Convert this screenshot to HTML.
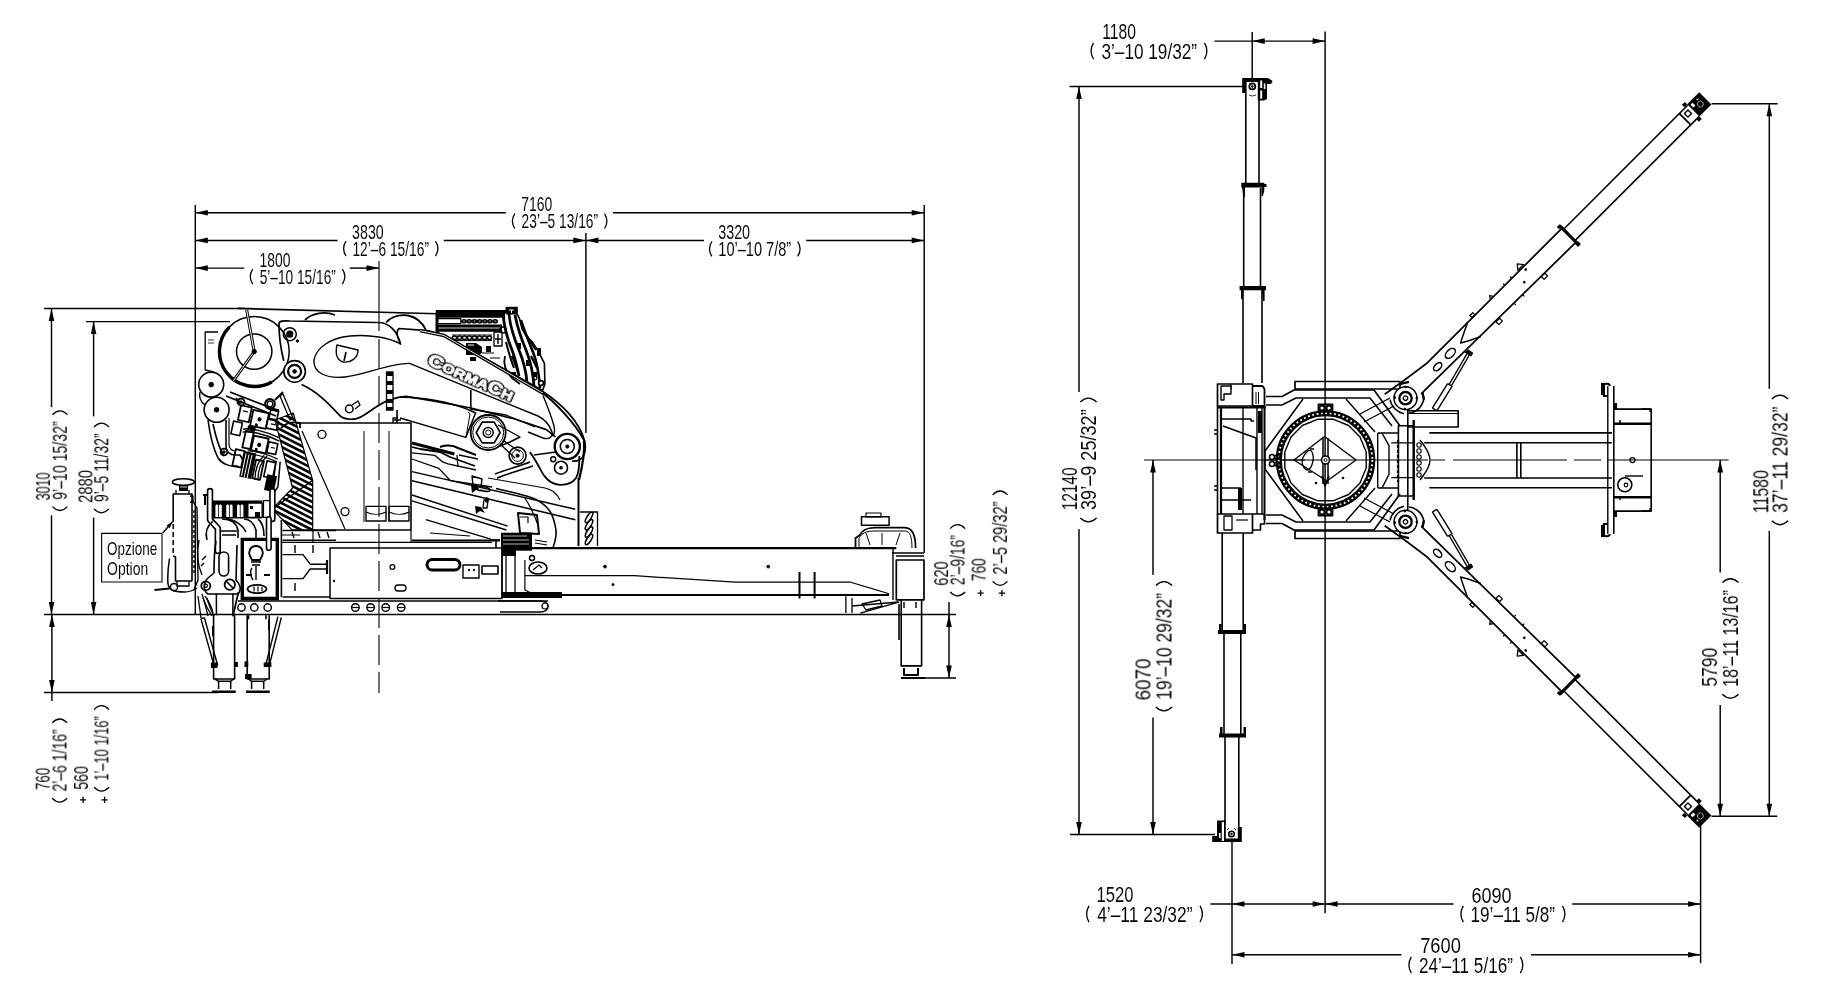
<!DOCTYPE html>
<html><head><meta charset="utf-8"><style>
html,body{margin:0;padding:0;background:#fff;}
svg{display:block;-webkit-font-smoothing:antialiased;}
text{will-change:transform;}
text{font-family:"Liberation Sans",sans-serif;fill:#000;stroke:#fff;stroke-width:0.05px;}
</style></head><body>
<svg width="1830" height="1000" viewBox="0 0 1830 1000">
<g fill="none" stroke="#000" stroke-linecap="butt" stroke-linejoin="round">
<style>.f{fill:#000;stroke:none}</style>
<line x1="195.3" y1="205" x2="195.3" y2="614.5" stroke-width="1.45" />
<line x1="924.2" y1="205" x2="924.2" y2="553" stroke-width="1.45" />
<line x1="585.9" y1="233" x2="585.9" y2="433" stroke-width="1.45" />
<line x1="44" y1="308.4" x2="245" y2="308.4" stroke-width="1.45" />
<line x1="86" y1="321.6" x2="230" y2="321.6" stroke-width="1.45" />
<line x1="44" y1="614.5" x2="956" y2="614.5" stroke-width="1.45" />
<line x1="44" y1="692.5" x2="218" y2="692.5" stroke-width="1.45" />
<line x1="923" y1="678" x2="956" y2="678" stroke-width="1.45" />
<line x1="195.3" y1="212.7" x2="505.8" y2="212.7" stroke-width="1.45" />
<line x1="612.8" y1="212.7" x2="924.2" y2="212.7" stroke-width="1.45" />
<polygon class="f" points="195.3,212.7 207.8,209.9 207.8,215.5"/>
<polygon class="f" points="924.2,212.7 911.7,215.5 911.7,209.9"/>
<text x="521.30" y="211.3" font-size="20" textLength="30.98" lengthAdjust="spacingAndGlyphs">7160</text>
<path d="M514.8,213.6 Q510.0,221.1 514.8,228.5" stroke-width="1.3"/>
<path d="M604.5,213.6 Q609.3,221.1 604.5,228.5" stroke-width="1.3"/>
<text x="521.61" y="227.9" font-size="20" textLength="76.37" lengthAdjust="spacingAndGlyphs">23’–5 13/16”</text>
<line x1="195.3" y1="240.4" x2="337.5" y2="240.4" stroke-width="1.45" />
<line x1="443.8" y1="240.4" x2="585.9" y2="240.4" stroke-width="1.45" />
<polygon class="f" points="195.3,240.4 207.8,237.6 207.8,243.2"/>
<polygon class="f" points="585.9,240.4 573.4,243.2 573.4,237.6"/>
<text x="352.10" y="239.3" font-size="20" textLength="31.59" lengthAdjust="spacingAndGlyphs">3830</text>
<path d="M346.0,241.2 Q341.2,248.7 346.0,256.1" stroke-width="1.3"/>
<path d="M435.5,241.2 Q440.3,248.7 435.5,256.1" stroke-width="1.3"/>
<text x="352.47" y="255.5" font-size="20" textLength="76.52" lengthAdjust="spacingAndGlyphs">12’–6 15/16”</text>
<line x1="585.9" y1="240.4" x2="704" y2="240.4" stroke-width="1.45" />
<line x1="806.2" y1="240.4" x2="924.2" y2="240.4" stroke-width="1.45" />
<polygon class="f" points="585.9,240.4 598.4,237.6 598.4,243.2"/>
<polygon class="f" points="924.2,240.4 911.7,243.2 911.7,237.6"/>
<text x="718.20" y="239.2" font-size="20" textLength="31.90" lengthAdjust="spacingAndGlyphs">3320</text>
<path d="M711.9,241.5 Q707.1,249.0 711.9,256.4" stroke-width="1.3"/>
<path d="M797.7,241.5 Q802.5,249.0 797.7,256.4" stroke-width="1.3"/>
<text x="718.31" y="255.8" font-size="20" textLength="72.89" lengthAdjust="spacingAndGlyphs">10’–10 7/8”</text>
<line x1="195.3" y1="268.1" x2="244.4" y2="268.1" stroke-width="1.45" />
<line x1="349.7" y1="268.1" x2="379" y2="268.1" stroke-width="1.45" />
<polygon class="f" points="195.3,268.1 207.8,265.3 207.8,270.9"/>
<polygon class="f" points="379.0,268.1 366.5,270.9 366.5,265.3"/>
<text x="259.46" y="267" font-size="20" textLength="30.92" lengthAdjust="spacingAndGlyphs">1800</text>
<path d="M252.7,269.2 Q247.9,276.6 252.7,284.1" stroke-width="1.3"/>
<path d="M342.4,269.2 Q347.2,276.6 342.4,284.1" stroke-width="1.3"/>
<text x="259.65" y="283.5" font-size="20" textLength="76.23" lengthAdjust="spacingAndGlyphs">5’–10 15/16”</text>
<line x1="51.5" y1="308.4" x2="51.5" y2="407.2" stroke-width="1.45" />
<line x1="51.5" y1="515.3" x2="51.5" y2="614.5" stroke-width="1.45" />
<polygon class="f" points="51.5,308.4 54.3,320.9 48.7,320.9"/>
<polygon class="f" points="51.5,614.5 48.7,602.0 54.3,602.0"/>
<text transform="translate(49.9,500.44) rotate(-90)" font-size="20" textLength="28.08" lengthAdjust="spacingAndGlyphs">3010</text>
<path d="M52.5,506.6 Q59.9,514.4 67.4,506.6" stroke-width="1.3"/>
<path d="M52.5,414.8 Q59.9,407.0 67.4,414.8" stroke-width="1.3"/>
<text transform="translate(66.8,499.73) rotate(-90)" font-size="20" textLength="78.43" lengthAdjust="spacingAndGlyphs">9’–10 15/32”</text>
<line x1="93.6" y1="321.6" x2="93.6" y2="416.4" stroke-width="1.45" />
<line x1="93.6" y1="517.6" x2="93.6" y2="614.5" stroke-width="1.45" />
<polygon class="f" points="93.6,321.6 96.4,334.1 90.8,334.1"/>
<polygon class="f" points="93.6,614.5 90.8,602.0 96.4,602.0"/>
<text transform="translate(92.4,502.94) rotate(-90)" font-size="20" textLength="32.95" lengthAdjust="spacingAndGlyphs">2880</text>
<path d="M94.0,508.9 Q101.4,516.7 108.9,508.9" stroke-width="1.3"/>
<path d="M94.0,427.0 Q101.4,419.2 108.9,427.0" stroke-width="1.3"/>
<text transform="translate(108.3,502.03) rotate(-90)" font-size="20" textLength="68.51" lengthAdjust="spacingAndGlyphs">9’–5 11/32”</text>
<line x1="51.9" y1="614.5" x2="51.9" y2="701" stroke-width="1.45" />
<polygon class="f" points="51.9,614.5 54.7,627.0 49.1,627.0"/>
<polygon class="f" points="51.9,692.5 49.1,680.0 54.7,680.0"/>
<text transform="translate(49.7,789.86) rotate(-90)" font-size="20" textLength="22.07" lengthAdjust="spacingAndGlyphs">760</text>
<path d="M52.2,798.3 Q59.6,806.1 67.1,798.3" stroke-width="1.3"/>
<path d="M52.2,722.9 Q59.6,715.1 67.1,722.9" stroke-width="1.3"/>
<text transform="translate(66.5,791.50) rotate(-90)" font-size="20" textLength="62.06" lengthAdjust="spacingAndGlyphs">2’–6 1/16”</text>
<path d="M80.0,799.9h6.2M83.1,796.8v6.2" stroke-width="1.3"/>
<text transform="translate(88,789.67) rotate(-90)" font-size="20" textLength="23.61" lengthAdjust="spacingAndGlyphs">560</text>
<path d="M101.5,799.9h6.2M104.6,796.8v6.2" stroke-width="1.3"/>
<path d="M94.1,787.2 Q101.6,795.0 109.0,787.2" stroke-width="1.3"/>
<path d="M94.1,709.6 Q101.6,701.8 109.0,709.6" stroke-width="1.3"/>
<text transform="translate(108.4,780.67) rotate(-90)" font-size="20" textLength="64.51" lengthAdjust="spacingAndGlyphs">1’–10 1/16”</text>
<line x1="949" y1="602" x2="949" y2="678" stroke-width="1.45" />
<polygon class="f" points="949.0,614.5 951.8,627.0 946.2,627.0"/>
<polygon class="f" points="949.0,678.0 946.2,665.5 951.8,665.5"/>
<text transform="translate(948.1,585.73) rotate(-90)" font-size="20" textLength="24.39" lengthAdjust="spacingAndGlyphs">620</text>
<path d="M950.2,592.0 Q957.7,599.8 965.1,592.0" stroke-width="1.3"/>
<path d="M950.2,528.6 Q957.7,520.8 965.1,528.6" stroke-width="1.3"/>
<text transform="translate(964.5,585.19) rotate(-90)" font-size="20" textLength="50.06" lengthAdjust="spacingAndGlyphs">2’–9/16”</text>
<path d="M977.5,593.1h6.2M980.6,590.0v6.2" stroke-width="1.3"/>
<text transform="translate(985.6,581.29) rotate(-90)" font-size="20" textLength="23.02" lengthAdjust="spacingAndGlyphs">760</text>
<path d="M998.8,593.1h6.2M1001.9,590.0v6.2" stroke-width="1.3"/>
<path d="M992.6,581.4 Q1000.0,589.2 1007.5,581.4" stroke-width="1.3"/>
<path d="M992.6,494.9 Q1000.0,487.1 1007.5,494.9" stroke-width="1.3"/>
<text transform="translate(1006.9,574.63) rotate(-90)" font-size="20" textLength="73.23" lengthAdjust="spacingAndGlyphs">2’–5 29/32”</text>
<rect x="101.6" y="533.4" width="60.4" height="48.6" stroke-width="1.1"/>
<text x="107.09" y="554.6" font-size="19" textLength="50.14" lengthAdjust="spacingAndGlyphs">Opzione</text>
<text x="107.07" y="575.4" font-size="19" textLength="41.08" lengthAdjust="spacingAndGlyphs">Option</text>
<line x1="1252.2" y1="32" x2="1252.2" y2="80" stroke-width="1.45" />
<line x1="1325.1" y1="31.5" x2="1325.1" y2="913.2" stroke-width="1.45" />
<line x1="1069.5" y1="86.4" x2="1245" y2="86.4" stroke-width="1.45" />
<line x1="1070" y1="834.4" x2="1215" y2="834.4" stroke-width="1.45" />
<line x1="1711.6" y1="103.7" x2="1777.6" y2="103.7" stroke-width="1.45" />
<line x1="1711.4" y1="816.2" x2="1777.2" y2="816.2" stroke-width="1.45" />
<line x1="1232" y1="840" x2="1232" y2="964" stroke-width="1.45" />
<line x1="1700.6" y1="820" x2="1700.6" y2="963.3" stroke-width="1.45" />
<line x1="1214.4" y1="41.1" x2="1325.1" y2="41.1" stroke-width="1.45" />
<polygon class="f" points="1252.2,41.1 1264.7,38.3 1264.7,43.9"/>
<polygon class="f" points="1325.1,41.1 1312.6,43.9 1312.6,38.3"/>
<text x="1102.22" y="39" font-size="22" textLength="33.84" lengthAdjust="spacingAndGlyphs">1180</text>
<path d="M1093.5,42.8 Q1088.7,51.0 1093.5,59.1" stroke-width="1.3"/>
<path d="M1204.5,42.8 Q1209.3,51.0 1204.5,59.1" stroke-width="1.3"/>
<text x="1101.45" y="58.5" font-size="22" textLength="95.61" lengthAdjust="spacingAndGlyphs">3’–10 19/32”</text>
<line x1="1079" y1="86.4" x2="1079" y2="392" stroke-width="1.45" />
<line x1="1079" y1="529" x2="1079" y2="834.4" stroke-width="1.45" />
<polygon class="f" points="1079.0,86.4 1081.8,98.9 1076.2,98.9"/>
<polygon class="f" points="1079.0,834.4 1076.2,821.9 1081.8,821.9"/>
<text transform="translate(1077,510.15) rotate(-90)" font-size="22" textLength="42.70" lengthAdjust="spacingAndGlyphs">12140</text>
<path d="M1080.3,518.0 Q1088.4,525.8 1096.6,518.0" stroke-width="1.3"/>
<path d="M1080.3,402.0 Q1088.4,394.2 1096.6,402.0" stroke-width="1.3"/>
<text transform="translate(1096,510.08) rotate(-90)" font-size="22" textLength="100.67" lengthAdjust="spacingAndGlyphs">39’–9 25/32”</text>
<line x1="1153" y1="460" x2="1153" y2="575" stroke-width="1.45" />
<line x1="1153" y1="717.5" x2="1153" y2="834.4" stroke-width="1.45" />
<polygon class="f" points="1153.0,460.0 1155.8,472.5 1150.2,472.5"/>
<polygon class="f" points="1153.0,834.4 1150.2,821.9 1155.8,821.9"/>
<text transform="translate(1150.5,700.45) rotate(-90)" font-size="22" textLength="42.10" lengthAdjust="spacingAndGlyphs">6070</text>
<path d="M1155.8,707.0 Q1163.9,714.8 1172.1,707.0" stroke-width="1.3"/>
<path d="M1155.8,585.5 Q1163.9,577.7 1172.1,585.5" stroke-width="1.3"/>
<text transform="translate(1171.5,699.76) rotate(-90)" font-size="22" textLength="106.76" lengthAdjust="spacingAndGlyphs">19’–10 29/32”</text>
<line x1="1769.3" y1="103.7" x2="1769.3" y2="388.8" stroke-width="1.45" />
<line x1="1769.3" y1="531" x2="1769.3" y2="816.2" stroke-width="1.45" />
<polygon class="f" points="1769.3,103.7 1772.1,116.2 1766.5,116.2"/>
<polygon class="f" points="1769.3,816.2 1766.5,803.7 1772.1,803.7"/>
<text transform="translate(1768.3,513.19) rotate(-90)" font-size="22" textLength="43.08" lengthAdjust="spacingAndGlyphs">11580</text>
<path d="M1771.8,520.8 Q1779.9,528.6 1788.1,520.8" stroke-width="1.3"/>
<path d="M1771.8,399.0 Q1779.9,391.2 1788.1,399.0" stroke-width="1.3"/>
<text transform="translate(1787.5,512.87) rotate(-90)" font-size="22" textLength="106.38" lengthAdjust="spacingAndGlyphs">37’–11 29/32”</text>
<line x1="1720.2" y1="460" x2="1720.2" y2="572.6" stroke-width="1.45" />
<line x1="1720.2" y1="705" x2="1720.2" y2="816.2" stroke-width="1.45" />
<polygon class="f" points="1720.2,460.0 1723.0,472.5 1717.4,472.5"/>
<polygon class="f" points="1720.2,816.2 1717.4,803.7 1723.0,803.7"/>
<text transform="translate(1717,686.70) rotate(-90)" font-size="22" textLength="39.11" lengthAdjust="spacingAndGlyphs">5790</text>
<path d="M1722.3,694.2 Q1730.4,702.0 1738.6,694.2" stroke-width="1.3"/>
<path d="M1722.3,582.6 Q1730.4,574.8 1738.6,582.6" stroke-width="1.3"/>
<text transform="translate(1738,686.85) rotate(-90)" font-size="22" textLength="96.72" lengthAdjust="spacingAndGlyphs">18’–11 13/16”</text>
<line x1="1210.3" y1="904" x2="1453.6" y2="904" stroke-width="1.45" />
<line x1="1572.2" y1="904" x2="1700.6" y2="904" stroke-width="1.45" />
<polygon class="f" points="1232.0,904.0 1244.5,901.2 1244.5,906.8"/>
<polygon class="f" points="1325.1,904.0 1312.6,906.8 1312.6,901.2"/>
<polygon class="f" points="1325.1,904.0 1337.6,901.2 1337.6,906.8"/>
<polygon class="f" points="1700.6,904.0 1688.1,906.8 1688.1,901.2"/>
<text x="1096.56" y="901.9" font-size="22" textLength="36.92" lengthAdjust="spacingAndGlyphs">1520</text>
<path d="M1089.0,905.8 Q1084.2,914.0 1089.0,922.1" stroke-width="1.3"/>
<path d="M1200.0,905.8 Q1204.8,914.0 1200.0,922.1" stroke-width="1.3"/>
<text x="1097.20" y="921.5" font-size="22" textLength="95.29" lengthAdjust="spacingAndGlyphs">4’–11 23/32”</text>
<text x="1471.50" y="902.5" font-size="22" textLength="40.13" lengthAdjust="spacingAndGlyphs">6090</text>
<path d="M1463.3,905.8 Q1458.5,914.0 1463.3,922.1" stroke-width="1.3"/>
<path d="M1562.5,905.8 Q1567.3,914.0 1562.5,922.1" stroke-width="1.3"/>
<text x="1470.56" y="921.5" font-size="22" textLength="84.48" lengthAdjust="spacingAndGlyphs">19’–11 5/8”</text>
<line x1="1232" y1="954.7" x2="1401.4" y2="954.7" stroke-width="1.45" />
<line x1="1531.1" y1="954.7" x2="1700.6" y2="954.7" stroke-width="1.45" />
<polygon class="f" points="1232.0,954.7 1244.5,951.9 1244.5,957.5"/>
<polygon class="f" points="1700.6,954.7 1688.1,957.5 1688.1,951.9"/>
<text x="1420.18" y="953.1" font-size="22" textLength="40.75" lengthAdjust="spacingAndGlyphs">7600</text>
<path d="M1411.3,956.8 Q1406.5,965.0 1411.3,973.1" stroke-width="1.3"/>
<path d="M1520.4,956.8 Q1525.2,965.0 1520.4,973.1" stroke-width="1.3"/>
<text x="1418.99" y="972.5" font-size="22" textLength="93.89" lengthAdjust="spacingAndGlyphs">24’–11 5/16”</text>
<path d="M238,308.4 L437,313.8" stroke-width="1.6" />
<circle cx="254.2" cy="351.6" r="35" stroke-width="1.5"/>
<path d="M271.7,381.9 A35,35 0 0 1 229.5,326.9" stroke-width="3.4" />
<circle cx="254.2" cy="351.6" r="17.7" stroke-width="1.5"/>
<path d="M246.6,309.6 L254.2,351.6 L232.8,381.6" stroke-width="3.0" />
<path d="M246.6,309.6 L254.2,351.6 L232.8,381.6" stroke-width="1.0" stroke="#fff"/>
<circle cx="254.2" cy="351.6" r="2.2" stroke-width="1" fill="#000"/>
<path d="M218,332 L205.2,332 L205.2,370 L214,372" stroke-width="1.3" />
<path d="M208,340 h6 M208,343 h6" stroke-width="0.8" />
<circle cx="211.2" cy="384.6" r="12.5" stroke-width="1.6" fill="#fff"/>
<circle cx="211.2" cy="384.6" r="2.3" stroke-width="1" fill="#000"/>
<circle cx="216.6" cy="409.8" r="12.5" stroke-width="1.6" fill="#fff"/>
<circle cx="216.6" cy="409.8" r="2.3" stroke-width="1" fill="#000"/>
<path d="M200,392 A12.5,12.5 0 0 0 205,405" stroke-width="1.4" />
<path d="M279,324 C279,321 283,320.5 290,321 L377,322.5 C389,322 397,331 400.6,344 C397,337 396,331 399,328.5 L427.6,330.6 L444,335 L542.4,391.2 C562,404 580,422 584.8,441.6 C587,455 582,462 572,461 M555.4,436.8 L546.4,429.6 L514,418.8 L470.8,408 L433,400.8 L406,396.3 C395,397 385,401 377.2,406.2 C368,412 362,418 355.6,418.8 C348,420 342,418 339.4,415.2 C330,405 318,392 301.6,384.6 M283.8,361 C281,350 279,338 279,324" stroke-width="1.7" />
<path d="M400.6,344 C390,338 370,334 350,336 C330,338 316,348 314,360 C313,372 325,379 345,377 C365,375 390,363 409.6,363.4 L513,405.9 L538,416 C546,420 550,426 552,432 C553,437 549,440 543,438 L528,432" stroke-width="1.4" />
<path d="M337,345 L358,350 C358,358 351,363 343,362 C337,360 335,354 337,345 Z" stroke-width="1.4" />
<path d="M346,352 L344,361" stroke-width="1.6" />
<circle cx="289.8" cy="334.2" r="6.5" stroke-width="1.5"/>
<circle cx="289.8" cy="334.2" r="2.6" stroke-width="2" fill="#000"/>
<circle cx="297.5" cy="341" r="1.2" stroke-width="1" fill="#000"/>
<circle cx="294.6" cy="371.4" r="10.8" stroke-width="1.6" fill="#fff"/>
<circle cx="294.6" cy="371.4" r="6.5" stroke-width="2.2"/>
<circle cx="294.6" cy="371.4" r="1.8" stroke-width="1" fill="#000"/>
<circle cx="349.3" cy="408.9" r="3.8" stroke-width="1.5"/>
<path d="M352,405 l6,-4 l2,4 l-5,4" stroke-width="1.3" />
<text transform="translate(426.5,364.0) rotate(24)" font-size="12.5" font-weight="bold" textLength="92" lengthAdjust="spacingAndGlyphs" style="fill:#000;stroke:#000;stroke-width:3.2px"><tspan font-size="17">C</tspan>ORMA<tspan font-size="16">C</tspan>H</text>
<text transform="translate(426.5,364.0) rotate(24)" font-size="12.5" font-weight="bold" textLength="92" lengthAdjust="spacingAndGlyphs" style="fill:#fff;stroke:#fff;stroke-width:0.9px"><tspan font-size="17">C</tspan>ORMA<tspan font-size="16">C</tspan>H</text>
<path d="M436.5,310.8 L506.3,310.8 L506.3,307.5 L517,307.5 L517,314 L519.5,318.7 L522.1,329 L525.8,335.5 L532.3,342 L537.9,350.4 L544.4,363.4 L544.9,383.9 L542.6,390.4 L444,335.5 L436.5,332 Z" fill="#fff" stroke-width="1.6"/>
<path d="M436,310.8 h70.5 v2.8 h-70.5z M506,307.5 h11 v7 h-11z M436,313.6 h69 v4.2 h-69z M436,317.8 h2 v14 h-2z M436,324.5 h66 v7.3 h-66z" fill="#000" stroke="none"/>
<path d="M509,310 h5 M511.5,310 v3" stroke-width="1.0" stroke="#fff"/>
<path d="M438,328 H500" stroke-width="0.8" stroke="#fff"/>
<rect x="437.8" y="318.6" width="23" height="5" stroke-width="1.2" fill="#fff"/>
<ellipse cx="464.0" cy="321.3" rx="2.1" ry="1.6" stroke-width="1.4"/>
<ellipse cx="469.2" cy="321.3" rx="2.1" ry="1.6" stroke-width="1.4"/>
<ellipse cx="474.4" cy="321.3" rx="2.1" ry="1.6" stroke-width="1.4"/>
<ellipse cx="479.6" cy="321.3" rx="2.1" ry="1.6" stroke-width="1.4"/>
<ellipse cx="484.8" cy="321.3" rx="2.1" ry="1.6" stroke-width="1.4"/>
<ellipse cx="490.0" cy="321.3" rx="2.1" ry="1.6" stroke-width="1.4"/>
<ellipse cx="495.2" cy="321.3" rx="2.1" ry="1.6" stroke-width="1.4"/>
<path d="M461,321.3 H497" stroke-width="0.9" />
<ellipse cx="454.5" cy="337.8" rx="2.1" ry="1.8" stroke-width="1.5"/>
<ellipse cx="459.5" cy="337.8" rx="2.1" ry="1.8" stroke-width="1.5"/>
<ellipse cx="464.5" cy="337.8" rx="2.1" ry="1.8" stroke-width="1.5"/>
<ellipse cx="469.5" cy="337.8" rx="2.1" ry="1.8" stroke-width="1.5"/>
<ellipse cx="474.5" cy="337.8" rx="2.1" ry="1.8" stroke-width="1.5"/>
<ellipse cx="479.5" cy="337.8" rx="2.1" ry="1.8" stroke-width="1.5"/>
<ellipse cx="484.5" cy="337.8" rx="2.1" ry="1.8" stroke-width="1.5"/>
<ellipse cx="489.5" cy="337.8" rx="2.1" ry="1.8" stroke-width="1.5"/>
<path d="M452,335 H492 M452,340.6 H492" stroke-width="1.0" />
<path d="M466,343 h10 l6,4 v6 l-4,2 h-12 z M486,346 h5 v6 h-5z M470,357 h6 v4 h-6z" fill="#000" stroke="none"/>
<path d="M468,345 h6" stroke-width="1.0" stroke="#fff"/>
<path d="M482,353 H494 M490,358 H500" stroke-width="1.2" />
<rect x="494" y="332" width="8" height="14" stroke-width="1.3" fill="#fff"/>
<path d="M498,334 v10 M495,339 h6" stroke-width="1.4" />
<path d="M503,314 C504,326 507,338 512,350 C515,358 517,366 519,376" stroke-width="2.8" />
<path d="M509,314 C510,326 514,338 519,350 C523,360 526,370 527,382" stroke-width="2.8" />
<path d="M515,315 C517,326 521,338 526,350 C530,360 533,372 534,386" stroke-width="2.8" />
<path d="M521,320 C524,330 529,342 533,352 C537,362 539,374 540,388" stroke-width="2.6" />
<path d="M506,342 C508,350 510,358 514,368 M512,356 L518,372" stroke-width="2.0" />
<path d="M527,336 L536,350 M531,356 L537,368" stroke-width="2.2" />
<path d="M517,343 h4 v6 h-4z M526,360 h4 v6 h-4z M511,372 h5 v5 h-5z M533,372 h4 v5 h-4z M537,348 h4 v8 h-4z" fill="#000" stroke="none"/>
<circle cx="541" cy="383" r="2.4" stroke-width="1.6" fill="#fff"/>
<circle cx="535" cy="378" r="1.8" stroke-width="1.3"/>
<path d="M505,356 C503,364 506,372 512,378 L520,384" stroke-width="1.8" />
<path d="M420,330.6 L444,335.5 L544.4,394" stroke-width="3.4" />
<path d="M420,330.6 L444,335.5 L544.4,394" stroke-width="0.9" stroke="#fff"/>
<path d="M437,313.8 L437,332" stroke-width="2.5" />
<circle cx="503" cy="330" r="3" stroke-width="1.5"/>
<path d="M542.8,393.3 C552,400 575,422 584.8,441.6" stroke-width="2.0" />
<circle cx="567.3" cy="446.5" r="12.6" stroke-width="2.4" fill="#fff"/>
<circle cx="567.3" cy="446.5" r="7" stroke-width="1.6"/>
<circle cx="567.3" cy="446.5" r="1.6" stroke-width="1" fill="#000"/>
<circle cx="561" cy="467.7" r="6.5" stroke-width="1.6"/>
<circle cx="561" cy="467.7" r="1.4" stroke-width="1" fill="#000"/>
<circle cx="553.2" cy="459.3" r="2.5" stroke-width="1.4"/>
<path d="M529.8,452.1 C533,456 537,463 540.2,469 C542,473 544,476 547,479 C550,482 554,484.5 560,484.8 C567,485 573,482.5 576,478 C579,473 579.5,466 579.3,456" stroke-width="1.8" />
<path d="M495,474 C505,470 520,466 530,462 M497,478 C507,474 520,470 533,466" stroke-width="1.4" />
<path d="M500,444 L515,458 M504,441 L520,452" stroke-width="1.3" />
<path d="M534,455 L556,452" stroke-width="1.3" />
<path d="M543,395.4 C547,405 551,415 554,426 C555,431 554,435 552,436" stroke-width="1.4" />
<circle cx="488.2" cy="432.5" r="17.5" stroke-width="1.8"/>
<circle cx="488.2" cy="432.5" r="15.5" stroke-width="1.0"/>
<polygon points="500.2,432.5 494.2,442.9 482.2,442.9 476.2,432.5 482.2,422.1 494.2,422.1" stroke-width="1.6"/>
<circle cx="488.2" cy="432.5" r="5" stroke-width="1.5"/>
<circle cx="488.2" cy="432.5" r="2.5" stroke-width="1"/>
<path d="M498,425 L520,437 L510,442 L500,446" stroke-width="1.4" />
<circle cx="517.6" cy="455.6" r="8.5" stroke-width="1.6"/>
<circle cx="517.6" cy="455.6" r="5.8" stroke-width="1.0"/>
<circle cx="517.6" cy="455.6" r="1.6" stroke-width="1" fill="#000"/>
<path d="M400,397 C430,398 455,403 475.6,413 L465.8,437.4 L400,418" stroke-width="1.5" />
<path d="M470,409 L506,415 L535,427" stroke-width="1.3" />
<path d="M468,412 L470,414 L466,437" stroke-width="1.0" />
<path d="M412,443 L454.4,454" stroke-width="3.0" />
<path d="M412,447 L420,449 L440,452 L450,457 L475,466" stroke-width="1.8" />
<path d="M412,452.8 L435,455.4 L442.7,461.9 L448,463.8 L476,470" stroke-width="1.3" />
<path d="M412,459 L438.8,468.4 L450.5,480.7 L492,487" stroke-width="1.3" />
<path d="M440,447 C446,445 452,445 458,448 L476,455" stroke-width="2.0" />
<path d="M457,455 L458,467 M459,455 L478,459" stroke-width="1.3" />
<path d="M472,476 L473,485 L481,487 L482,479 Z" stroke-width="1.4" />
<path d="M480,487 C486,486 490,488 490,490 C490,492 486,492 480,490" stroke-width="1.4" />
<path d="M412,471.6 L575.3,509.3 M412,480.7 L575.3,519.7" stroke-width="1.4" />
<path d="M412,495 L507.7,526.2 M412,500.9 L506.4,530 M425.8,519.7 L490.8,539.2" stroke-width="1.4" />
<path d="M488,478 L545,488 C552,490 556,492 560,500" stroke-width="1.2" />
<path d="M484,500 L488,500 L487,508 L483,508 Z" stroke-width="1.4" />
<path d="M471,484 l6,2 l4,6 l-5,-2 l-4,3 z M475,506 l6,1 l4,6 l-5,-2 l-4,3 z M486,497 l3,1 l-1,5 l-3,-1z" fill="#000" stroke="none"/>
<path d="M496,488.5 C515,493 535,497 541.5,502.8 C548,507 553,513 555.8,528.8 C557,536 555,542 553.2,547" stroke-width="1.6" />
<path d="M578.5,478 V546" stroke-width="2.0" />
<path d="M580,512 H597.5 V546" stroke-width="1.3" />
<ellipse cx="589" cy="517.5" rx="6" ry="2.1" transform="rotate(-58 589 517.5)" stroke-width="1.6"/>
<ellipse cx="589" cy="524.8" rx="6" ry="2.1" transform="rotate(-58 589 524.8)" stroke-width="1.6"/>
<ellipse cx="589" cy="532.1" rx="6" ry="2.1" transform="rotate(-58 589 532.1)" stroke-width="1.6"/>
<ellipse cx="589" cy="539.4" rx="6" ry="2.1" transform="rotate(-58 589 539.4)" stroke-width="1.6"/>
<path d="M584,441 C585,455 582,468 579,480" stroke-width="2.2" />
<path d="M501,532.7 h31 v18 h-31z" fill="#000" stroke="none"/>
<path d="M503,536 h24 M503,540 h26 M503,544 h26" stroke-width="0.7" stroke="#fff"/>
<path d="M518,513 L537,515 L539,534 L520,533 Z" stroke-width="2.0" />
<path d="M520,517 h8 v6" stroke-width="1.2" />
<path d="M535,540 L547,542 M535,543 L547,545" stroke-width="1.2" />
<path d="M496,540 L496,548 M490,540 H500" stroke-width="1.6" />
<path d="M412,540.5 H500" stroke-width="2.0" />
<path d="M525,498 C530,506 534,514 538,525" stroke-width="1.3" />
<rect x="386.5" y="372" width="6.5" height="38" stroke-width="1.3" fill="#fff"/>
<path d="M386.5,372 h6.5 v4 h-6.5z M386.5,381 h6.5 v4 h-6.5z M386.5,390 h6.5 v4 h-6.5z M386.5,399 h6.5 v4 h-6.5z M386.5,407 h6.5 v3 h-6.5z" fill="#000" stroke="none"/>
<path d="M397,410 V423 M393,420 h8" stroke-width="1.6" />
<path d="M470.8,390 V408" stroke-width="1.6" />
<path d="M386.2,322.5 C392,316 400,314.5 408,315.5 C416,317 422,322 425.8,329.7" stroke-width="1.8" />
<path d="M305,320 C312,313 325,311 335,315" stroke-width="1.8" />
<path d="M296,423 L411,423 L411,530 L313,530" stroke-width="1.6" />
<path d="M302,431 L345,529" stroke-width="1.2" />
<path d="M364,431 L364,522 M389,431 L389,522" stroke-width="1.0" />
<rect x="366" y="506.4" width="20" height="14.6" stroke-width="1.4" />
<rect x="389" y="506.4" width="20" height="14.6" stroke-width="1.4" />
<path d="M366,512 C372,515 380,515 386,512 M389,512 C395,515 403,515 409,512" stroke-width="1.2" />
<circle cx="322" cy="434.4" r="4" stroke-width="1.3"/>
<circle cx="345" cy="511.6" r="4" stroke-width="1.3"/>
<path d="M393,423 L393,418 L398,418" stroke-width="1.3" />
<clipPath id="h1"><polygon points="275,420 293.2,413 312.7,480.4 312.7,529.8 292,529.8 272.4,509 292.6,488"/></clipPath>
<path clip-path="url(#h1)" d="M241.5,314.3L449.6,420.4M239.2,318.8L447.4,424.8M237.0,323.2L445.1,429.3M234.7,327.7L442.8,433.7M232.4,332.1L440.6,438.2M230.2,336.6L438.3,442.6M227.9,341.0L436.0,447.1M225.6,345.5L433.8,451.5M223.3,349.9L431.5,456.0M221.1,354.4L429.2,460.5M218.8,358.9L426.9,464.9M216.5,363.3L424.7,469.4M214.3,367.8L422.4,473.8M212.0,372.2L420.1,478.3M209.7,376.7L417.9,482.7M207.5,381.1L415.6,487.2M205.2,385.6L413.3,491.6M202.9,390.0L411.1,496.1M200.6,394.5L408.8,500.5M198.4,398.9L406.5,505.0M196.1,403.4L404.2,509.5M193.8,407.9L402.0,513.9M191.6,412.3L399.7,518.4M189.3,416.8L397.4,522.8M187.0,421.2L395.2,527.3M184.8,425.7L392.9,531.7M182.5,430.1L390.6,536.2M180.2,434.6L388.4,540.6M177.9,439.0L386.1,545.1M175.7,443.5L383.8,549.6M173.4,448.0L381.5,554.0M171.1,452.4L379.3,558.5M168.9,456.9L377.0,562.9M166.6,461.3L374.7,567.4M164.3,465.8L372.5,571.8M162.1,470.2L370.2,576.3M159.8,474.7L367.9,580.7M157.5,479.1L365.7,585.2M155.2,483.6L363.4,589.6M153.0,488.1L361.1,594.1M150.7,492.5L358.8,598.6M148.4,497.0L356.6,603.0M146.2,501.4L354.3,607.5M143.9,505.9L352.0,611.9M141.6,510.3L349.8,616.4M139.4,514.8L347.5,620.8M137.1,519.2L345.2,625.3" stroke-width="2.6"/>
<polygon points="275,420 293.2,413 312.7,480.4 312.7,529.8 292,529.8 272.4,509 292.6,488" stroke-width="1.2"/>
<path d="M272.4,509 L312.7,480.4" stroke-width="1.4" />
<path d="M208,420 C210,435 214,450 218,458 C222,464 230,467 238,466 M213,424 C216,438 220,450 224,456" stroke-width="1.6"/>
<circle cx="224" cy="452" r="3.4" stroke-width="1.8"/>
<circle cx="224" cy="452" r="1.2" stroke-width="1" fill="#000"/>
<path d="M226,420 L226,446 C226,452 230,455 236,455 L240,455 L244,462 L246,468" stroke-width="1.6" />
<path d="M229,418 L229,444 C229,449 232,451 236,451" stroke-width="1.2" />
<g transform="rotate(12 250 445)">
<rect x="233" y="408" width="11" height="15" stroke-width="1.8" />
<rect x="246" y="410" width="16" height="16" stroke-width="1.8" />
<rect x="263" y="406" width="8" height="9" stroke-width="1.6" />
<rect x="262" y="416" width="11" height="9" stroke-width="1.6" />
<rect x="229" y="425" width="9" height="13" stroke-width="1.6" />
<rect x="243" y="432" width="8" height="17" stroke-width="1.8" />
<rect x="252" y="435" width="15" height="15" stroke-width="1.8" />
<rect x="268" y="438" width="9" height="11" stroke-width="1.6" />
<rect x="237" y="452" width="9" height="17" stroke-width="1.8" />
<rect x="259" y="458" width="8" height="19" stroke-width="1.8" />
<rect x="270" y="457" width="9" height="16" stroke-width="1.6" />
<circle cx="254" cy="418" r="1.6" stroke-width="1" fill="#000"/>
<circle cx="259" cy="443" r="1.6" stroke-width="1" fill="#000"/>
<circle cx="252" cy="424" r="1" stroke-width="1" fill="#000"/>
<circle cx="257" cy="448" r="1" stroke-width="1" fill="#000"/>
<path d="M236,413 h5 M266,420 h5 M271,443 h4" stroke-width="1.2" />
<path d="M246,452 h12 v26 h-12z M273,470 h10 v16 h-10z M262,404 h9 v3 h-9z M244,426 h8 v5 h-8z" fill="#000" stroke="none"/>
<path d="M248,454 V477 M251,454 V478 M254,454 V478" stroke-width="1.0" stroke="#fff"/>
<path d="M240,431 C246,428 262,428 278,432 M240,434 C246,431 262,431 278,435 M249,451 C258,450 268,450 280,453 M249,454 C258,453 268,453 280,456" stroke-width="1.4" />
<path d="M266,452 C262,458 260,468 262,478 M269,452 C265,458 263,468 265,478" stroke-width="1.3" />
<path d="M283,455 L286,480 L282,490 M279,458 L281,482" stroke-width="1.5" />
</g>
<path d="M236,398 L240,404 M226,396 L276,416 M230,392 L279,411" stroke-width="1.8" />
<circle cx="241" cy="402" r="3.5" stroke-width="1.8"/>
<circle cx="241" cy="402" r="1.2" stroke-width="1"/>
<circle cx="270" cy="404" r="4.8" stroke-width="2.2"/>
<circle cx="270" cy="404" r="2.8" stroke-width="1.2"/>
<path d="M280,396 L290,420 L293,418 L283,394 Z" stroke-width="1.3" />
<path d="M281,428 C285,424 290,421 300,423 L300,428" stroke-width="1.8" />
<path d="M275,400 L283,392" stroke-width="2.0" />
<path d="M213,500.5 h49 v18 h-49z" fill="#000" stroke="none"/>
<path d="M215.4,517 v-11 a1.4,1.4 0 0 1 2.8,0 v11" fill="#fff" stroke="none"/>
<path d="M219.0,517 v-11 a1.4,1.4 0 0 1 2.8,0 v11" fill="#fff" stroke="none"/>
<path d="M226.2,517 v-11 a1.4,1.4 0 0 1 2.8,0 v11" fill="#fff" stroke="none"/>
<path d="M229.8,517 v-11 a1.4,1.4 0 0 1 2.8,0 v11" fill="#fff" stroke="none"/>
<path d="M237.0,517 v-11 a1.4,1.4 0 0 1 2.8,0 v11" fill="#fff" stroke="none"/>
<path d="M240.6,517 v-11 a1.4,1.4 0 0 1 2.8,0 v11" fill="#fff" stroke="none"/>
<rect x="247.8" y="503" width="14.4" height="14.4" stroke-width="1.4" fill="#fff"/>
<path d="M250,506 h3 v3 h-3z M255,512 h5 v5 h-5z" fill="#000" stroke="none"/>
<rect x="263.4" y="500.6" width="7.2" height="16.8" stroke-width="1.4" fill="#fff"/>
<path d="M210,491 V519.8 L217.8,528.2 V551" stroke-width="6.5" stroke-linecap="round"/>
<path d="M210,491 V519.8 L217.8,528.2 V551" stroke-width="3.2" stroke="#fff" stroke-linecap="round"/>
<path d="M272.4,491 V519" stroke-width="6.5" stroke-linecap="round"/>
<path d="M272.4,491 V519" stroke-width="3.2" stroke="#fff" stroke-linecap="round"/>
<path d="M205,495 v10 M203,495 h4" stroke-width="2.0" />
<path d="M222,519 C230,519 236,522 238,530 L238,538 M226,518 C234,520 242,524 246,532 M244,519 C250,519 254,524 256,530 L256,538 M258,519 C262,522 264,528 264,536" stroke-width="1.6" />
<path d="M213,521 C207,526 205,533 207,540" stroke-width="1.6" />
<path d="M221,531 h16 M222,535 h14" stroke-width="1.3" />
<path d="M240.6,537.8 h38.4 v62.4 h-38.4z M244,541 v55.8 h31.6 v-55.8z" fill="#000" fill-rule="evenodd" stroke="none"/>
<path d="M268.8,519 V548" stroke-width="6.2" stroke-linecap="round"/>
<path d="M268.8,519 V548" stroke-width="3.0" stroke="#fff" stroke-linecap="round"/>
<path d="M256,546 C250,546 248,552 250,556 L252,560 h8 l2,-4 C264,552 262,546 256,546 Z" stroke-width="1.8" />
<path d="M251,562 h10 M252,565 h8 M256,566 v14 M253,580 C250,576 250,570 252,568" stroke-width="1.4" />
<ellipse cx="257" cy="589" rx="9.5" ry="4.2" stroke-width="1.8"/>
<path d="M254,586.5 v5 M258,586.5 v5 M262,587 v4" stroke-width="1.2" />
<path d="M246,575 h6 M264,575 h6" stroke-width="1.8" />
<path d="M216,541 C214,552 214,566 214,573 L208,578 C203,583 203,591 208,594 L238,594 C242,590 240,584 236,580 L237,545" stroke-width="1.6" />
<rect x="219" y="552" width="9.6" height="24" rx="4.8" stroke-width="1.6"/>
<circle cx="229.8" cy="584.6" r="5.2" stroke-width="1.8"/>
<path d="M226,581 L233,588" stroke-width="1.6" />
<circle cx="205.8" cy="585.8" r="4.5" stroke-width="1.8"/>
<circle cx="205.8" cy="585.8" r="1.6" stroke-width="1.2"/>
<path d="M202,560 L206,556 M201,566 L204,563" stroke-width="1.4" />
<path d="M199,540 C196,555 198,566 202,575" stroke-width="1.4" />
<path d="M203,598 C205,604 208,610 212,616 M207,598 C209,606 212,612 214,616" stroke-width="1.3" />
<path d="M281.4,520 V597" stroke-width="1.6" />
<path d="M282.6,530.6 H336 M282.6,540.2 H336" stroke-width="1.5" />
<path d="M292,532 l2,6 M318,532 l2,6 M327,532 l2,6" stroke-width="1.4" />
<path d="M282.6,554.6 H303 L310.2,564.2 H327 M282.6,578.6 H303 L310.2,569 H327" stroke-width="1.4" />
<path d="M295,545 v8 M313,545 v8 M295,583 v8" stroke-width="1.4" />
<path d="M327,560 v14" stroke-width="2.2" />
<path d="M282.6,597 H330" stroke-width="1.4" />
<path d="M238,601 L548,601" stroke-width="1.6" />
<path d="M282,542.4 L492,542.4" stroke-width="1.4" />
<path d="M411,530 L411,542 M313,530 L313,542" stroke-width="1.2" />
<path d="M282,535 L300,535 M430,533 L470,536" stroke-width="1.2" />
<circle cx="241.5" cy="607.5" r="3.7" stroke-width="1.4"/>
<circle cx="254.3" cy="607.5" r="3.7" stroke-width="1.4"/>
<circle cx="267.7" cy="607.5" r="3.7" stroke-width="1.4"/>
<circle cx="355.4" cy="607.5" r="3.8" stroke-width="1.4"/>
<path d="M351.9,607.5 h7" stroke-width="1.2" />
<circle cx="370.6" cy="607.5" r="3.8" stroke-width="1.4"/>
<path d="M367.1,607.5 h7" stroke-width="1.2" />
<circle cx="385.7" cy="607.5" r="3.8" stroke-width="1.4"/>
<path d="M382.2,607.5 h7" stroke-width="1.2" />
<circle cx="401.2" cy="607.5" r="3.8" stroke-width="1.4"/>
<path d="M397.7,607.5 h7" stroke-width="1.2" />
<path d="M330,548 L502,548 L502,598.5 L330,598.5 Z" stroke-width="1.5" />
<rect x="427" y="559.4" width="33" height="10.6" rx="5.3" stroke-width="3" fill="none"/>
<rect x="463" y="565" width="16" height="13" stroke-width="1.4" />
<rect x="482" y="566" width="16" height="8" stroke-width="1.6" />
<circle cx="392.4" cy="567" r="2.4" stroke-width="1.2"/>
<rect x="395" y="585" width="11" height="6" rx="3" stroke-width="1.4"/>
<circle cx="334" cy="581" r="0.8" stroke-width="1" fill="#000"/>
<circle cx="469" cy="570" r="0.8" stroke-width="1" fill="#000"/>
<circle cx="474" cy="570" r="0.8" stroke-width="1" fill="#000"/>
<path d="M502,548.1 L896.3,548.1" stroke-width="2.2" />
<path d="M502,595 L889,595" stroke-width="2.2" />
<path d="M524.9,575.7 L634.3,575.7 L735.3,582.2 L850.7,582.2 L889.1,593.8" stroke-width="1.2" />
<path d="M524.9,560 L524.9,590 L535,595" stroke-width="1.2" />
<path d="M799.5,572 L799.5,598.6 M814.6,572 L814.6,598.6" stroke-width="2.0" />
<circle cx="605" cy="566.6" r="1.4" stroke-width="1" fill="#000"/>
<circle cx="768.2" cy="566.6" r="1.4" stroke-width="1" fill="#000"/>
<circle cx="613" cy="584.6" r="1" stroke-width="1" fill="#000"/>
<circle cx="532" cy="558" r="2.5" stroke-width="1.5"/>
<ellipse cx="538" cy="568" rx="9" ry="6" stroke-width="1.6"/>
<path d="M533,570 l6,-5 l3,3" stroke-width="1.3" />
<path d="M502,548 L502,598 M506,551 L506,596 L515,596 L515,551 Z" stroke-width="1.3" />
<path d="M502,592 h60 v6 h-60z M502,548 h14 v8 h-14z" fill="#000" stroke="none"/>
<path d="M498,601 L540,601 C546,601 548,604 548,606 C548,610 545,612 540,612 L500,612" stroke-width="1.4" />
<circle cx="545" cy="606" r="3" stroke-width="1.2"/>
<path d="M845.9,596.2 L845.9,613 M852,598 L852,613 M852,606 L898.8,602 L860.3,613" stroke-width="1.3" />
<path d="M862,604 L880,600 L882,606 L866,610 Z" stroke-width="1.3" />
<path d="M896.3,560 L924,560 L924,599.8 L896.3,599.8 Z" stroke-width="1.7" />
<path d="M855.5,548 L855.5,538 L860,535 C862,530 866,528 875,527.7 L905,527.7 C912,528 915.6,535 915.6,548" stroke-width="1.8" />
<path d="M859,548 L859,538 C862,533 866,531 875,531 L905,531 C910,531 912,537 912,548" stroke-width="1.0" />
<rect x="861.5" y="516.8" width="27.6" height="8.4" stroke-width="1.5" />
<rect x="866" y="513" width="15" height="4" stroke-width="1.2" />
<path d="M893,548 L893,600 M892,553 L924,553 M896,556 L924,556" stroke-width="1.4" />
<path d="M866,533 L870,545 M900,533 L896,545 M882,533 L882,545" stroke-width="1.0" />
<path d="M901.2,600 L901.2,665.9 L921.6,665.9 L921.6,600" stroke-width="1.6" />
<path d="M904,668 L904,675 L918,675 L918,668 M901,678 L925,678" stroke-width="2.0" />
<path d="M899,604 L899,640" stroke-width="1.6" />
<path d="M904,602 v6 M916,602 v6" stroke-width="1.4" />
<path d="M216.4,593.3 V615.3 M232.9,593.3 V615.3" stroke-width="1.5" />
<path d="M213.6,615.3 V679 H234.6 V615.3" stroke-width="1.6" />
<path d="M215,679 L218.6,681.3 H230.7 L233.5,679 M218.6,681.3 V689 M230.7,681.3 V689" stroke-width="1.5" />
<path d="M247.2,615.3 V679 H269.2 V615.3" stroke-width="1.6" />
<path d="M248.5,679 L251.6,681.3 H263.7 L267,679 M251.6,681.3 V689 M263.7,681.3 V689" stroke-width="1.5" />
<path d="M212,690.4 h23.7 v2.6 h-23.7z M246.1,690.4 h23.7 v2.6 h-23.7z" fill="#000" stroke="none"/>
<path d="M200.9,618.6 L214.3,666.5 M204.4,617.8 L217.7,665.5 M200.9,618.6 L204.4,617.8" stroke-width="1.4" />
<path d="M281.3,617.5 L269.2,665.9 M277.9,616.6 L265.8,665" stroke-width="1.4" />
<path d="M210.9,662.6 h6.6 v5.5 h-6.6z M234,662 h3.9 v5 h-3.9z M244.5,661.5 h3.8 v5.5 h-3.8z M245,674 h6.6 v5 h-6.6z M263.7,662.6 h7.7 v4.4 h-7.7z M212,626 h2 v10 h-2z M268,620 h2 v10 h-2z" fill="#000" stroke="none"/>
<path d="M238.4,592.2 L232.9,616.4" stroke-width="1.8" />
<path d="M198,596 C199,604 200,610 201,618 M202,594 C204,600 206,608 208,616 M205,596 C209,602 212,606 213,614" stroke-width="1.3" />
<path d="M248.5,615.3 v4 M266,615.3 v4" stroke-width="1.6" />
<ellipse cx="183.3" cy="482" rx="11" ry="3.2" stroke-width="1.5"/>
<path d="M179,485 h9 v6 h-9z" fill="#000" stroke="none"/>
<path d="M180,487 h7" stroke-width="0.8" stroke="#fff"/>
<path d="M173.2,522 V494 H192 V581 M173.2,556 L175.5,557 V581 H192" stroke-width="1.6" />
<path d="M173.2,524 V555" stroke-width="1.5" stroke-dasharray="5,3"/>
<path d="M176,494 V490 M189,494 V490" stroke-width="1.3" />
<path d="M177,581 V586 H189 V581" stroke-width="1.3" />
<path d="M169.5,558.5 C168,568 167.5,578 168,584 C169,590 173,592 184.5,592 C190,592 194,590 197,588" stroke-width="1.5" />
<circle cx="174" cy="587" r="3.6" stroke-width="1.5"/>
<path d="M154.5,590 L169.5,588.5" stroke-width="2.0" />
<path d="M162.7,533 L172.5,521.7" stroke-width="1.3" />
<polygon points="172.5,521.7 166.6,525.6 169.6,528.2" fill="#000" stroke="none"/>
<path d="M192,500 L197,508 L198,580 L194,590" stroke-width="1.4" />
<path d="M194,510 V575" stroke-width="1.4" stroke-dasharray="3,2"/>
<path d="M190,496 h3 v6 h-3" stroke-width="1.3" />
<path d="M379,261 L379,331" stroke-width="1.1" />
<path d="M379,339 L379,693" stroke-width="1.1" stroke-dasharray="30,7"/>
<path d="M1242.2,78 H1268 L1272.6,81 L1271,84 H1267 V99 L1264,100.5 H1257.8 V82 H1246.6 V93 H1242.2 Z" fill="#000" stroke="none"/>
<path d="M1260.2,80.5 h2 v7.5 h-2z M1260.2,90.4 h2 v8.4 h-2z M1263.8,83.5 h1.6 v5.5 h-1.6z" fill="#fff" stroke="none"/>
<circle cx="1252.3" cy="86.4" r="3.0" stroke-width="1.7" />
<circle cx="1252.3" cy="86.4" r="0.9" stroke-width="1" fill="#000" />
<path d="M1245.8,93 V183.6 M1259,100 V183.6" stroke-width="1.6" />
<path d="M1249,95 q3.5,2 7,0" stroke-width="0.8" />
<path d="M1241.3,182.8 h23 v4.6 h-23 z M1242,187 h3 v10 h-1.5 z M1261.5,187 h2.8 v4 l-1.5,5 h-1.3 z M1262.5,184 h4 v3 h-4z" fill="#000" stroke="none"/>
<path d="M1243.7,188 V286.8 M1260.5,188 V286.8" stroke-width="1.6" />
<path d="M1239.6,286 h26.4 v4.2 h-26.4 z M1241,290 h2.5 l-1,9 h-1.5 z M1262,290 h2.6 v11 h-1.5 z" fill="#000" stroke="none"/>
<path d="M1243,290 V383 M1262,290 V383" stroke-width="1.6" />
<path d="M1217.5,384 h35 v22 h-35 z" stroke-width="1.7" />
<path d="M1221,386 h10 v8 h-7 v6 h-3 z" stroke-width="1.4" />
<path d="M1231,384 v5" stroke-width="1.2" />
<path d="M1252.5,386 h10 l2,3 v17 h-12" stroke-width="1.8" />
<path d="M1256,392 v12 M1258.5,392 v12" stroke-width="1.0" />
<path d="M1217.5,406 V514" stroke-width="1.6" />
<path d="M1221,408 V514" stroke-width="2.2" />
<path d="M1217.5,407.5 H1266" stroke-width="2.2" />
<path d="M1243,408 V514 M1257,408 V514 M1262,408 V514" stroke-width="1.4" />
<path d="M1264.5,406 V520" stroke-width="2.0" />
<path d="M1221,419 h30 v2 h3" stroke-width="1.4" />
<path d="M1223,426 L1256,438 L1256,470" stroke-width="1.5" />
<path d="M1214,430 h3 M1214,434 h3 M1214,486 h3 M1214,490 h3" stroke-width="1.6" />
<path d="M1258,411 h4 v22 h-4z M1238,488 h4 v22 h-4z" fill="#000" stroke="none"/>
<path d="M1221,488 h20 M1221,500 h30" stroke-width="1.3" />
<path d="M1217.5,514 h35 v19 h-35 z" stroke-width="1.7" />
<path d="M1224,516 h8 v14 h-8 z" stroke-width="1.3" />
<path d="M1252.5,514 h12 v10 h-4 v6 h-8" stroke-width="1.6" />
<path d="M1236,520 h12" stroke-width="1.2" />
<path d="M1222.2,533 V631 M1243.2,533 V631" stroke-width="1.6" />
<path d="M1218,630 h28 v4 h-28z M1219,624 h2.5 v7 h-2.5z M1243.5,624 h2.5 v7 h-2.5z" fill="#000" stroke="none"/>
<path d="M1224,634 V734.5 M1240.8,634 V734.5" stroke-width="1.6" />
<path d="M1219,733.5 h27 v4 h-27z M1220,727 h2.5 v7 h-2.5z M1243.5,727 h2.5 v7 h-2.5z" fill="#000" stroke="none"/>
<path d="M1225,737 V822 M1238.8,737 V838" stroke-width="1.6" />
<path d="M1217,820.4 h8.8 v21.6 h-8.8z M1212.2,836 h6 v6 h-6z M1237.8,827 h4 v15 h-4z M1212.2,838.5 h29.6 v3.5 h-29.6z" fill="#000" stroke="none"/>
<path d="M1221.8,822 h2.2 v19 h-2.2z M1219,833 h1.6 v5 h-1.6z" fill="#fff" stroke="none"/>
<circle cx="1231.5" cy="834" r="2.8" stroke-width="1.6" />
<circle cx="1231.5" cy="834" r="0.8" stroke-width="1" fill="#000" />
<path d="M1227,830 l2,-2 M1236,830 l-2,-2" stroke-width="0.8" />
<path d="M1295,381.5 h105 v7.5 h-105 z" stroke-width="1.7" />
<path d="M1295,531 h105 v7.5 h-105 z" stroke-width="1.7" />
<path d="M1266,396.5 H1282 L1294,390 H1374 L1400,426" stroke-width="1.7" />
<path d="M1266,405 H1282 L1296,398 H1370 L1392,426" stroke-width="1.5" />
<path d="M1266,523.5 H1282 L1294,530 H1374 L1400,494" stroke-width="1.7" />
<path d="M1266,515 H1282 L1296,522 H1370 L1392,494" stroke-width="1.5" />
<path d="M1303,399 L1265,451 V469 L1303,521" stroke-width="1.5" />
<path d="M1346,399 L1375,432 M1346,521 L1375,488" stroke-width="1.4" />
<path d="M1360,414 L1390,398 M1364,422 L1394,406 M1360,506 L1390,522 M1364,498 L1394,514" stroke-width="1.3" />
<path d="M1377.7,433 V488 M1377.7,433 H1398 M1377.7,488 H1398" stroke-width="1.4" />
<path d="M1382,433 L1389,445.6 V474.4 L1382,488" stroke-width="1.4" />
<path d="M1398.4,425.8 H1413.7 V496 H1398.4 Z" stroke-width="1.6" />
<path d="M1413.7,420 V500" stroke-width="2.4" />
<path d="M1398,440 V482" stroke-width="2.2" stroke-dasharray="3,2"/>
<path d="M1391.2,442.9 H1414.6 M1391.2,477.6 H1414.6" stroke-width="1.3" />
<path d="M1265,460 H1305" stroke-width="1.0" />
<path d="M1144,460 H1428" stroke-width="1.1" />
<path d="M1431,460 H1445 M1453,460 H1567 M1574,460 H1601 M1607,460 H1728.7" stroke-width="1.1" />
<circle cx="1325.5" cy="460" r="49" stroke-width="1.6" />
<circle cx="1325.5" cy="460" r="46.8" stroke-width="4.4" />
<circle cx="1325.5" cy="460" r="46.8" stroke-width="1.8" stroke="#fff" stroke-dasharray="1.8,2.6"/>
<circle cx="1325.5" cy="460" r="44.3" stroke-width="1.3" />
<polygon points="1366.2,468.1 1360.0,483.1 1348.6,494.5 1333.6,500.7 1317.4,500.7 1302.4,494.5 1291.0,483.1 1284.8,468.1 1284.8,451.9 1291.0,436.9 1302.4,425.5 1317.4,419.3 1333.6,419.3 1348.6,425.5 1360.0,436.9 1366.2,451.9" stroke-width="1.4"/>
<path d="M1318.5,404.5 h14 v7 h-14 z" stroke-width="1.8" />
<circle cx="1322" cy="408" r="2.4" stroke-width="1.6" fill="#fff" />
<circle cx="1329" cy="408" r="2.4" stroke-width="1.6" fill="#fff" />
<path d="M1318.5,508.5 h14 v7 h-14 z" stroke-width="1.8" />
<circle cx="1322" cy="512" r="2.4" stroke-width="1.6" fill="#fff" />
<circle cx="1329" cy="512" r="2.4" stroke-width="1.6" fill="#fff" />
<circle cx="1272" cy="457" r="2.5" stroke-width="1.5" />
<circle cx="1272" cy="464" r="2.5" stroke-width="1.5" />
<circle cx="1277" cy="457" r="2.2" stroke-width="1.3" />
<circle cx="1277" cy="464" r="2.2" stroke-width="1.3" />
<path d="M1294,460 L1324.5,436.5 L1356,460 L1327,481 Z" stroke-width="1.4" />
<path d="M1302,460 C1305,452 1310,448 1312,452 C1315,458 1312,468 1308,470 C1304,470 1302,465 1302,460 Z" stroke-width="1.3" />
<path d="M1310,449 L1314,449 M1308,472 L1312,472" stroke-width="1.3" />
<path d="M1323,438 V484 M1328,438 V484" stroke-width="1.5" />
<circle cx="1325.5" cy="460" r="4" stroke-width="1.6" fill="#fff" />
<circle cx="1325.5" cy="460" r="1.5" stroke-width="1" />
<path d="M1322,476 L1325,486 L1329,476" stroke-width="1.8" />
<circle cx="1316" cy="483" r="0.9" stroke-width="1" fill="#000" />
<circle cx="1343" cy="478" r="0.9" stroke-width="1" fill="#000" />
<path d="M1429.3,432.9 H1612 M1424.2,442.8 H1612 M1424.2,478 H1612 M1429.3,487.8 H1612" stroke-width="1.6" />
<path d="M1516.9,442.8 V478 M1520.8,442.8 V478" stroke-width="1.6" />
<path d="M1420,440 C1428,450 1430,455 1430,460 C1430,465 1428,470 1420,480" stroke-width="1.4" />
<circle cx="1419" cy="445" r="2.2" stroke-width="1.1" />
<circle cx="1419" cy="451" r="2.2" stroke-width="1.1" />
<circle cx="1419" cy="457" r="2.2" stroke-width="1.1" />
<circle cx="1419" cy="463" r="2.2" stroke-width="1.1" />
<circle cx="1419" cy="469" r="2.2" stroke-width="1.1" />
<circle cx="1419" cy="475" r="2.2" stroke-width="1.1" />
<path d="M1407.8,386 V534 M1613.8,386 V534" stroke-width="1.6" />
<path d="M1607.8,386 V534" stroke-width="1.4" />
<path d="M1607.8,396 h-4 v-10 c0,-3 6,-3 6,0" stroke-width="1.8" />
<path d="M1607.8,524 h-4 v10 c0,3 6,3 6,0" stroke-width="1.8" />
<path d="M1601,383 h4 v12 h-4z M1601,525 h4 v12 h-4z" fill="#000" stroke="none"/>
<path d="M1613.8,409.1 H1651.2 V511.1 H1613.8" stroke-width="1.6" />
<path d="M1613,422.5 h38 v2.5 h-38z M1613,496 h38 v2.5 h-38z M1614,403 h3 v6 h-3z M1614,511 h3 v6 h-3z" fill="#000" stroke="none"/>
<path d="M1620,420 v3 M1620,497 v3" stroke-width="1.5" />
<circle cx="1624.8" cy="484.8" r="7" stroke-width="1.6" />
<circle cx="1626" cy="485" r="1.8" stroke-width="1.2" />
<path d="M1625,476 H1643" stroke-width="1.4" />
<circle cx="1632.5" cy="460.1" r="2.5" stroke-width="1.3" />
<path d="M1650,412 v-3 h-8 M1650,508 v3 h-8" stroke-width="1.4" />
<path d="M1407.2,410.8 H1458.2 V427 H1407.2" stroke-width="1.6" />
<path d="M1408,413.5 H1458" stroke-width="1.2" />

<g transform="translate(1405.5,398.2) rotate(-45)">
 <path d="M-12,-17.5 C0,-15.5 10,-13.5 40,-9.6 L232,-9.6 M14,8 L232,10.3" stroke-width="1.7"/>
 <path d="M232,-7.6 L407,-7.6 M232,8.4 L407,8.4" stroke-width="1.6"/>
 <path d="M231,-13 V13" stroke-width="3.2"/>
 <path d="M228,-14 h4 v3 h-4z M229,11 h4 v4 h-4z" fill="#000" stroke="none"/>
 <path d="M-12,10 C-16,4 -16,-4 -12,-10" stroke-width="1.6"/>
 <path d="M-8,13 C-2,18 8,18 14,12" stroke-width="1.6"/>
 <path d="M6,-14 L14,-9 M12,14 L16,8" stroke-width="2.4"/>
 <circle cx="0" cy="0" r="11.5" stroke-width="1.5" fill="#fff"/>
 <circle cx="0" cy="0" r="6.2" stroke-width="2.3"/>
 <circle cx="0" cy="0" r="2.2" stroke-width="1.2"/>
 <circle cx="-7" cy="-8" r="0.8" fill="#000"/><circle cx="8" cy="-8" r="0.8" fill="#000"/><circle cx="-8" cy="7" r="0.8" fill="#000"/><circle cx="8" cy="8" r="0.8" fill="#000"/>
 <path d="M97,-9.4 C90,-6 82,-2.5 78,0 C82,2.5 90,6.5 97,9.8" stroke-width="1.5"/>
 <ellipse cx="45" cy="0.5" rx="5" ry="3" stroke-width="1.5"/>
 <ellipse cx="63.4" cy="0" rx="6" ry="3.6" stroke-width="1.5"/>
 <path d="M12,26 L40,19.5 M13.5,31 L41.5,24.5 M12,26 L13.5,31 M40,19.5 L41.5,24.5" stroke-width="1.4"/>
 <path d="M41,21 L77,11.5 M42,23.5 L78,14" stroke-width="1.3"/>
 <path d="M74,9 L79,10 L80,16 L76,17 Z" fill="#000" stroke="none"/>
 <path d="M104,-10 h4 v-3 h-4z M130,-10 l2,-3 l2,3 M150,-10 v-2 M160,-10 v-2 M170,-11 l4,-5 l4,5z" stroke-width="1.3"/>
 <path d="M118,10 h5 v4 h-5z M144,10 v2 M156,10 v2 M182,10 h5 v4 h-5z" stroke-width="1.3"/>
 <circle cx="166" cy="2" r="0.8" fill="#000"/><circle cx="176" cy="-6" r="0.8" fill="#000"/>
 <path d="M395,-7.6 V8.4" stroke-width="1.8"/>
 <path d="M398.5,-4 h5 v5 h-5 z" stroke-width="1.4"/>
 <path d="M407,-8.6 H424 V8.6 H407 Z" fill="#000" stroke="none"/>
 <path d="M409,-6 h3 v4 h-3z M417,-6.5 l2,2 l-2,1z" fill="#fff" stroke="none"/>
 <circle cx="416.5" cy="0.5" r="3" stroke="#fff" stroke-width="0.6"/>
 <path d="M403,-12 h4 v3.4 h-4z M403,8.6 h4 v3.4 h-4z" fill="#000" stroke="none"/>
</g>
<g transform="translate(0,920) scale(1,-1)">
<g transform="translate(1405.5,398.2) rotate(-45)">
 <path d="M-12,-17.5 C0,-15.5 10,-13.5 40,-9.6 L232,-9.6 M14,8 L232,10.3" stroke-width="1.7"/>
 <path d="M232,-7.6 L407,-7.6 M232,8.4 L407,8.4" stroke-width="1.6"/>
 <path d="M231,-13 V13" stroke-width="3.2"/>
 <path d="M228,-14 h4 v3 h-4z M229,11 h4 v4 h-4z" fill="#000" stroke="none"/>
 <path d="M-12,10 C-16,4 -16,-4 -12,-10" stroke-width="1.6"/>
 <path d="M-8,13 C-2,18 8,18 14,12" stroke-width="1.6"/>
 <path d="M6,-14 L14,-9 M12,14 L16,8" stroke-width="2.4"/>
 <circle cx="0" cy="0" r="11.5" stroke-width="1.5" fill="#fff"/>
 <circle cx="0" cy="0" r="6.2" stroke-width="2.3"/>
 <circle cx="0" cy="0" r="2.2" stroke-width="1.2"/>
 <circle cx="-7" cy="-8" r="0.8" fill="#000"/><circle cx="8" cy="-8" r="0.8" fill="#000"/><circle cx="-8" cy="7" r="0.8" fill="#000"/><circle cx="8" cy="8" r="0.8" fill="#000"/>
 <path d="M97,-9.4 C90,-6 82,-2.5 78,0 C82,2.5 90,6.5 97,9.8" stroke-width="1.5"/>
 <ellipse cx="45" cy="0.5" rx="5" ry="3" stroke-width="1.5"/>
 <ellipse cx="63.4" cy="0" rx="6" ry="3.6" stroke-width="1.5"/>
 <path d="M12,26 L40,19.5 M13.5,31 L41.5,24.5 M12,26 L13.5,31 M40,19.5 L41.5,24.5" stroke-width="1.4"/>
 <path d="M41,21 L77,11.5 M42,23.5 L78,14" stroke-width="1.3"/>
 <path d="M74,9 L79,10 L80,16 L76,17 Z" fill="#000" stroke="none"/>
 <path d="M104,-10 h4 v-3 h-4z M130,-10 l2,-3 l2,3 M150,-10 v-2 M160,-10 v-2 M170,-11 l4,-5 l4,5z" stroke-width="1.3"/>
 <path d="M118,10 h5 v4 h-5z M144,10 v2 M156,10 v2 M182,10 h5 v4 h-5z" stroke-width="1.3"/>
 <circle cx="166" cy="2" r="0.8" fill="#000"/><circle cx="176" cy="-6" r="0.8" fill="#000"/>
 <path d="M395,-7.6 V8.4" stroke-width="1.8"/>
 <path d="M398.5,-4 h5 v5 h-5 z" stroke-width="1.4"/>
 <path d="M407,-8.6 H424 V8.6 H407 Z" fill="#000" stroke="none"/>
 <path d="M409,-6 h3 v4 h-3z M417,-6.5 l2,2 l-2,1z" fill="#fff" stroke="none"/>
 <circle cx="416.5" cy="0.5" r="3" stroke="#fff" stroke-width="0.6"/>
 <path d="M403,-12 h4 v3.4 h-4z M403,8.6 h4 v3.4 h-4z" fill="#000" stroke="none"/>
</g></g>
</g></svg></body></html>
